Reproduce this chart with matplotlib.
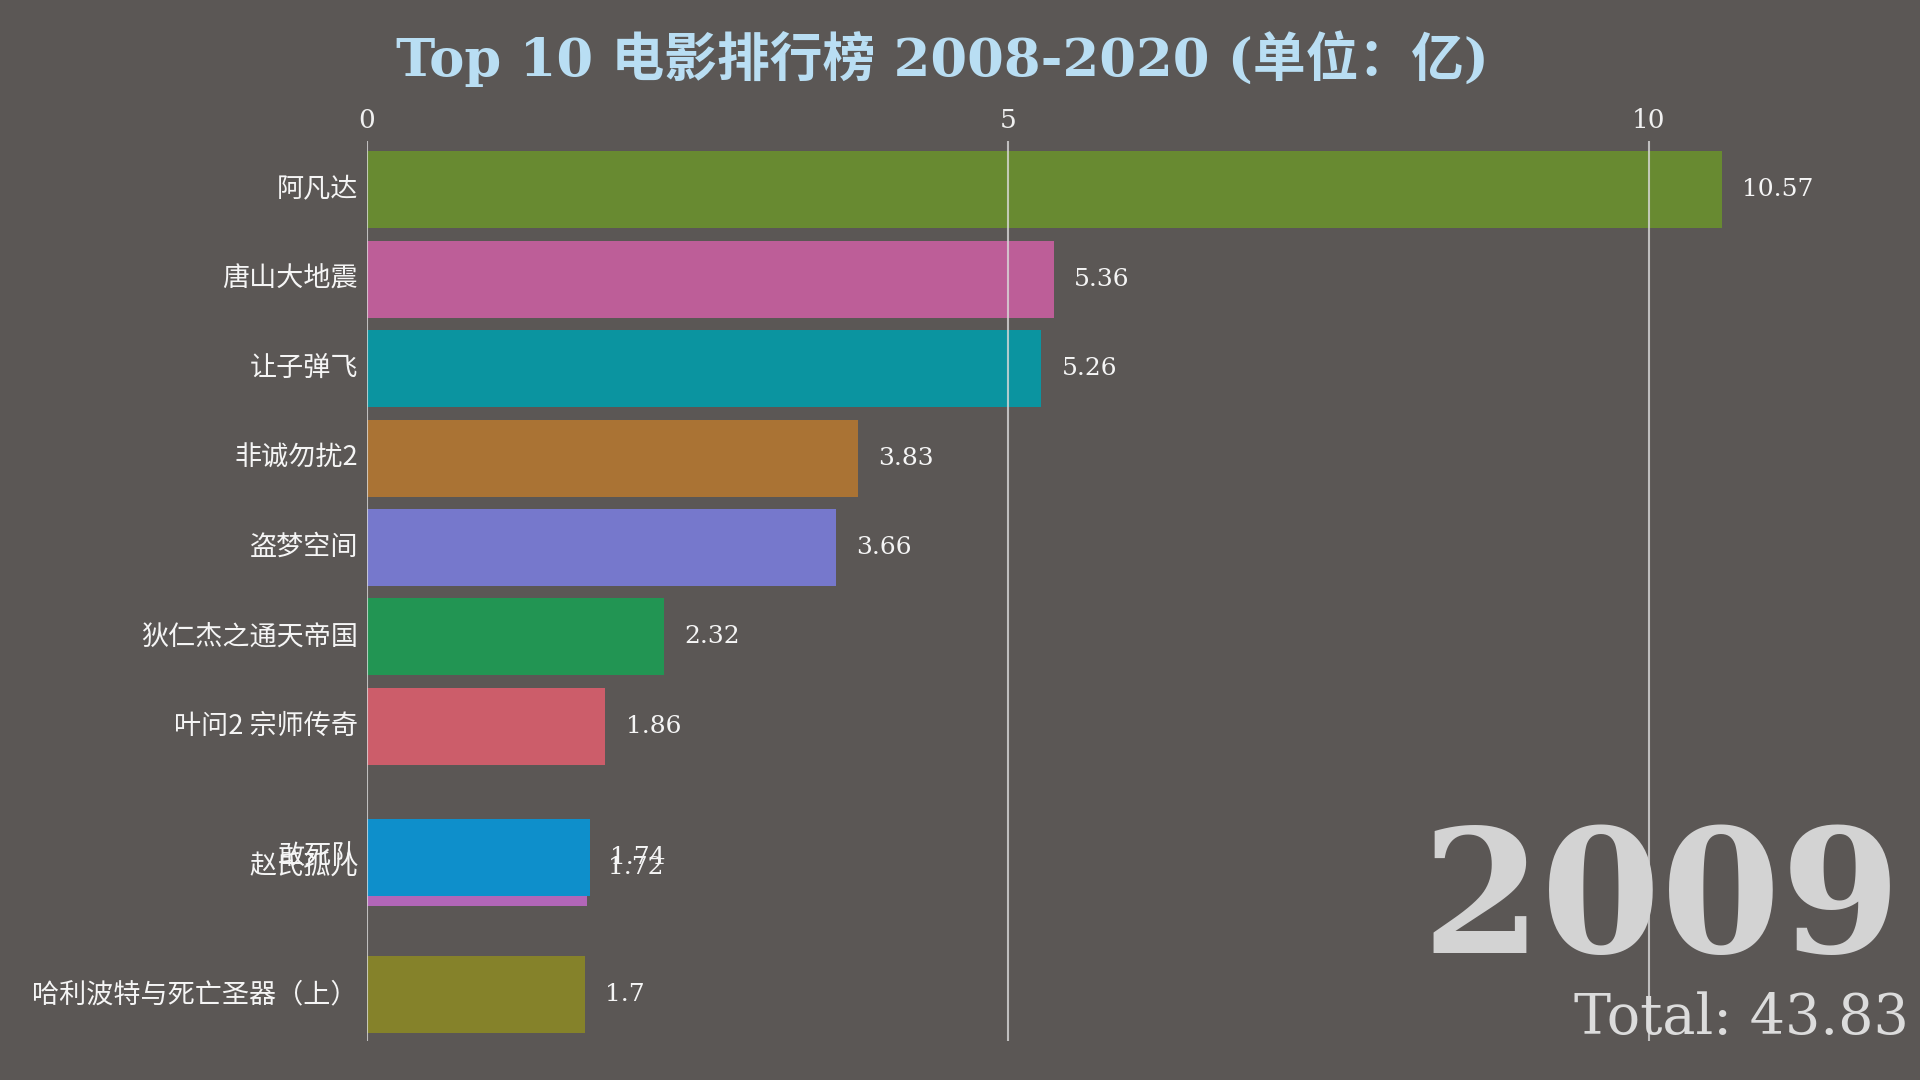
import matplotlib
matplotlib.use("Agg")
import matplotlib.pyplot as plt

# data for the 2009 frame (values in 亿)
names = ["阿凡达", "唐山大地震", "让子弹飞", "非诚勿扰2", "盗梦空间",
         "狄仁杰之通天帝国", "叶问2 宗师传奇", "赵氏孤儿", "敢死队",
         "哈利波特与死亡圣器（上）"]
values = [10.57, 5.36, 5.26, 3.83, 3.66, 2.32, 1.86, 1.72, 1.74, 1.7]
# bar ranks (two bars are mid-swap in this animation frame)
ranks = [1, 2, 3, 4, 5, 6, 7, 8.58, 8.47, 10]
colors = ["#688a31", "#bd5e98", "#0b94a0", "#aa7334", "#7678cc",
          "#229553", "#cc5d6a", "#b266b8", "#0e8fcb", "#85822a"]
year = "2009"
total = 43.83
xticks = [0, 5, 10]

bg = "#5b5755"
serif = ["DejaVu Serif", "Noto Sans CJK SC"]
cjk = ["Noto Sans CJK SC", "DejaVu Sans"]

fig = plt.figure(figsize=(19.2, 10.8), dpi=100, facecolor=bg)
ax = fig.add_axes([0.1911, 0.036, 0.801, 0.833])
ax.set_facecolor(bg)

ax.barh(ranks, values, height=0.86, color=colors, zorder=2)
ax.set_xlim(0, 12)
ax.set_ylim(10.52, 0.46)

# grid lines on top of bars
for t in xticks:
    ax.axvline(t, color="#d9d9d9", lw=1.5, alpha=0.8, zorder=3)

ax.xaxis.tick_top()
ax.set_xticks(xticks)
ax.set_xticklabels([str(t) for t in xticks], family=serif, fontsize=19,
                   color="#f0f0f0")
ax.tick_params(axis="x", length=0, pad=6)
ax.set_yticks([])
for s in ax.spines.values():
    s.set_visible(False)

for r, v, n in zip(ranks, values, names):
    ax.text(-0.07, r, n, ha="right", va="center", fontsize=19.5,
            family=cjk, weight="light", color="#f5f5f5")
    ax.text(v + 0.16, r, f"{v:g}", ha="left", va="center", fontsize=18,
            family=serif, color="#f5f5f5")

fig.text(0.491, 0.946, "Top 10 电影排行榜 2008-2020 (单位：亿)", ha="center",
         va="center", fontsize=38, weight="bold", family=serif,
         color="#b9def3")

fig.text(0.99, 0.118, year, ha="right", va="baseline", fontsize=124,
         weight="bold", family=serif, color="#d3d3d3")
fig.text(0.994, 0.043, f"Total: {total}", ha="right", va="baseline",
         fontsize=40, family=serif, color="#dcdcdc")

fig.savefig("out.png", dpi=100, facecolor=bg)
